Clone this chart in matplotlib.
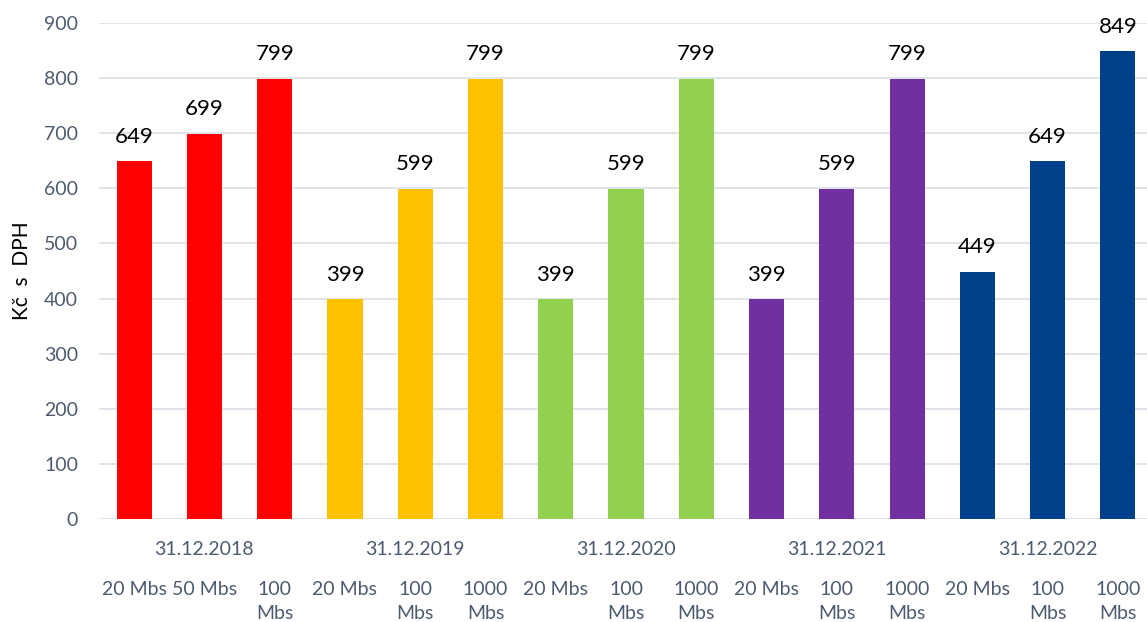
import matplotlib
matplotlib.use("Agg")
import matplotlib.pyplot as plt

groups = ["31.12.2018", "31.12.2019", "31.12.2020", "31.12.2021", "31.12.2022"]
speeds = [
    ["20 Mbs", "50 Mbs", "100\nMbs"],
    ["20 Mbs", "100\nMbs", "1000\nMbs"],
    ["20 Mbs", "100\nMbs", "1000\nMbs"],
    ["20 Mbs", "100\nMbs", "1000\nMbs"],
    ["20 Mbs", "100\nMbs", "1000\nMbs"],
]
prices = [
    [649, 699, 799],
    [399, 599, 799],
    [399, 599, 799],
    [399, 599, 799],
    [449, 649, 849],
]
group_colors = ["#FF0000", "#FFC000", "#92D050", "#7030A0", "#00408A"]
yticks = [0, 100, 200, 300, 400, 500, 600, 700, 800, 900]

plt.rcParams['font.family'] = ['Lato', 'DejaVu Sans']
W, H = 1147, 622
fig = plt.figure(figsize=(W / 100, H / 100), dpi=100)
ax = fig.add_axes([99 / W, 103 / H, 1054 / W, 496 / H])

tick_color = "#4D5B70"
x = 0
for gi, (g, labs, vals, c) in enumerate(zip(groups, speeds, prices, group_colors)):
    xs = list(range(x, x + len(vals)))
    ax.bar(xs, vals, width=0.5, color=c, zorder=3)
    for xi, v, lab in zip(xs, vals, labs):
        ax.annotate(str(v), xy=(xi, v), xytext=(0, 10.5), textcoords="offset points",
                    ha="center", va="bottom", fontsize=16, color="black")
        ax.annotate(lab, xy=(xi, 0), xycoords=("data", "axes fraction"),
                    xytext=(0, -44.5), textcoords="offset points",
                    ha="center", va="top", fontsize=14, color=tick_color,
                    linespacing=1.5)
    ax.annotate(g, xy=(xs[1], 0), xycoords=("data", "axes fraction"),
                xytext=(0, -15.5), textcoords="offset points",
                ha="center", va="top", fontsize=14, color=tick_color)
    x += len(vals)

ax.set_xlim(-0.5, x - 0.5)
ax.set_ylim(0, 900)
ax.set_yticks(yticks)
ax.set_yticklabels([str(t) for t in yticks], fontsize=14, color=tick_color)
ax.tick_params(axis="y", length=0, pad=15)
ax.set_xticks([])
ax.grid(axis="y", color="#D9DEE6", linewidth=1.2, zorder=0)
for s in ax.spines.values():
    s.set_visible(False)
ax.set_ylabel("Kč  s  DPH", fontsize=15, color="black", labelpad=9)

fig.savefig("out.png", dpi=100)
